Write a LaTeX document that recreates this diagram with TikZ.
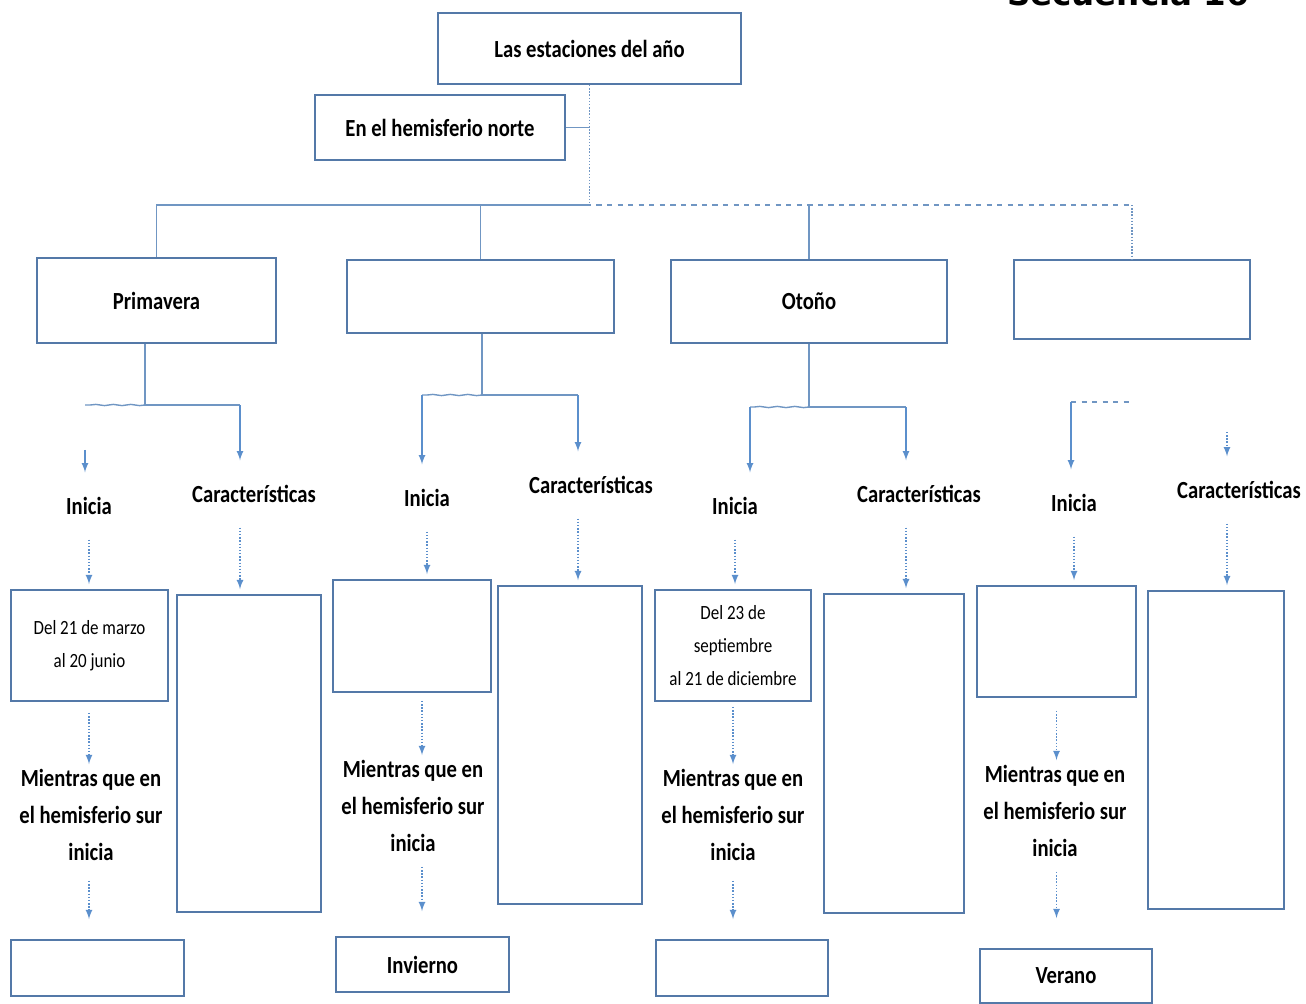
\documentclass[tikz,border=0pt]{standalone}
\usepackage{fontspec}
\setmainfont{Carlito}[FakeStretch=0.84]
\newfontfamily\titulo{DejaVu Sans}
\usetikzlibrary{decorations.pathmorphing}
\definecolor{cborde}{RGB}{84,121,168}
\definecolor{crama}{RGB}{112,150,195}
\definecolor{cflecha}{RGB}{91,143,204}
\tikzset{
  caja/.style={draw=cborde,line width=1.1pt,align=center},
  etiq/.style={font=\bfseries\fontsize{14}{21}\selectfont,align=center},
  rotulo/.style={etiq,inner sep=0pt,outer ysep=0.5cm},
  fecha/.style={font=\fontsize{11.5}{19}\selectfont},
  linea/.style={draw=crama,line width=0.8pt},
  flechita/.style={->,draw=cflecha,line width=0.8pt},
  onda/.style={decorate,decoration={snake,amplitude=0.12mm,segment length=3.5mm}},
}
\begin{document}
\begin{tikzpicture}[>=latex,x=0.02cm,y=-0.02cm]
\useasboundingbox (0,0) rectangle (1306,1004);
\begin{scope}
\clip (0,0) rectangle (1306,1004);
\node[font=\titulo\bfseries\fontsize{18.5}{20}\selectfont,anchor=base] (sec) at (1128,6) {Secuencia 16};
\end{scope}
% cabecera
\node[caja,etiq,minimum width=6.06cm,minimum height=1.42cm] (estac) at (589.5,48.5) {Las estaciones del año};
\node[caja,etiq,minimum width=5cm,minimum height=1.3cm] (norte) at (440,127.5) {En el hemisferio norte};
\node[caja,etiq,minimum width=4.78cm,minimum height=1.7cm] (prim) at (156.5,300.5) {Primavera};
\node[caja,minimum width=5.34cm,minimum height=1.46cm] (est2) at (480.5,296.5) {};
\node[caja,etiq,minimum width=5.52cm,minimum height=1.66cm] (oto) at (809,301.5) {Otoño};
\node[caja,minimum width=4.72cm,minimum height=1.58cm] (est4) at (1132,299.5) {};
\coordinate (tronco) at (589.5,205);
\draw[linea,densely dotted] (estac.south) -- (tronco);
\draw[linea] (norte.east) -- (norte.east -| tronco);
\draw[linea] (tronco) -| (prim.north);
\draw[linea,dashed] (tronco -| est2.north) -- (tronco -| est4.north);
\draw[linea] (tronco -| est2.north) -- (est2.north);
\draw[linea] (tronco -| oto.north) -- (oto.north);
\draw[linea,densely dotted] (tronco -| est4.north) -- (est4.north);
% rotulos
\node[rotulo] (ini1) at (89,506) {Inicia};
\node[rotulo] (car1) at (254,494) {Características};
\node[rotulo] (ini2) at (427,498) {Inicia};
\node[rotulo] (car2) at (591,485) {Características};
\node[rotulo] (ini3) at (735,506) {Inicia};
\node[rotulo] (car3) at (919,494) {Características};
\node[rotulo] (ini4) at (1074,503) {Inicia};
\node[rotulo] (car4) at (1239,490) {Características};
% fechas y cajas de caracteristicas
\node[caja,fecha,minimum width=3.14cm,minimum height=2.22cm] (fecha1) at (89.5,645.5) {Del 21 de marzo\\al 20 junio};
\node[caja,minimum width=2.88cm,minimum height=6.34cm] (rasgos1) at (249,753.5) {};
\node[caja,minimum width=3.16cm,minimum height=2.24cm] (fecha2) at (412,636) {};
\node[caja,minimum width=2.88cm,minimum height=6.36cm] (rasgos2) at (570,745) {};
\node[caja,fecha,minimum width=3.12cm,minimum height=2.22cm] (fecha3) at (733,645.5) {Del 23 de\\septiembre\\al 21 de diciembre};
\node[caja,minimum width=2.8cm,minimum height=6.38cm] (rasgos3) at (894,753.5) {};
\node[caja,minimum width=3.18cm,minimum height=2.22cm] (fecha4) at (1056.5,641.5) {};
\node[caja,minimum width=2.72cm,minimum height=6.36cm] (rasgos4) at (1216,750) {};
% hemisferio sur
\node[etiq,inner sep=0pt] (sur1) at (91,815) {Mientras que en\\el hemisferio sur\\inicia};
\node[etiq,inner sep=0pt] (sur2) at (413,806) {Mientras que en\\el hemisferio sur\\inicia};
\node[etiq,inner sep=0pt] (sur3) at (733,815) {Mientras que en\\el hemisferio sur\\inicia};
\node[etiq,inner sep=0pt] (sur4) at (1055,811) {Mientras que en\\el hemisferio sur\\inicia};
\node[caja,minimum width=3.46cm,minimum height=1.12cm] (res1) at (97.5,968) {};
\node[caja,etiq,minimum width=3.46cm,minimum height=1.1cm] (res2) at (422.5,964.5) {Invierno};
\node[caja,minimum width=3.44cm,minimum height=1.12cm] (res3) at (742,968) {};
\node[caja,etiq,minimum width=3.44cm,minimum height=1.08cm] (res4) at (1066,976) {Verano};
% ramas bajo cada estacion
\coordinate (j1) at (145,405);
\coordinate (a1) at (85,405);
\coordinate (b1) at (240,405);
\draw[linea] (prim.south -| j1) -- (j1) -- (b1);
\draw[linea,onda] (j1) -- (a1);
\draw[flechita,shorten <=0.9cm] (a1) -- (a1 |- ini1.north);
\draw[flechita] (b1) -- (b1 |- car1.north);
\coordinate (j2) at (482,395);
\coordinate (a2) at (422,395);
\coordinate (b2) at (578,395);
\draw[linea] (est2.south -| j2) -- (j2) -- (b2);
\draw[linea,onda] (j2) -- (a2);
\draw[flechita] (a2) -- (a2 |- ini2.north);
\draw[flechita] (b2) -- (b2 |- car2.north);
\coordinate (j3) at (809,407);
\coordinate (a3) at (750,407);
\coordinate (b3) at (906,407);
\draw[linea] (oto.south -| j3) -- (j3) -- (b3);
\draw[linea,onda] (j3) -- (a3);
\draw[flechita] (a3) -- (a3 |- ini3.north);
\draw[flechita] (b3) -- (b3 |- car3.north);
\coordinate (a4) at (1071,402);
\coordinate (b4) at (1227,402);
\coordinate (c4) at (1130,402);
\draw[linea,dashed] (a4) -- (c4);
\draw[flechita] (a4) -- (a4 |- ini4.north);
\draw[flechita,densely dotted,shorten <=0.6cm] (b4) -- (b4 |- car4.north);
% hacia las cajas
\draw[flechita,densely dotted,shorten >=0.1cm] (ini1.south) -- (ini1.south |- fecha1.north);
\draw[flechita,densely dotted,shorten >=0.1cm] (car1.south -| b1) -- (rasgos1.north -| b1);
\draw[flechita,densely dotted,shorten >=0.1cm] (ini2.south) -- (ini2.south |- fecha2.north);
\draw[flechita,densely dotted,shorten >=0.1cm] (car2.south -| b2) -- (rasgos2.north -| b2);
\draw[flechita,densely dotted,shorten >=0.1cm] (ini3.south) -- (ini3.south |- fecha3.north);
\draw[flechita,densely dotted,shorten >=0.1cm] (car3.south -| b3) -- (rasgos3.north -| b3);
\draw[flechita,densely dotted,shorten >=0.1cm] (ini4.south) -- (ini4.south |- fecha4.north);
\draw[flechita,densely dotted,shorten >=0.1cm] (car4.south -| b4) -- (rasgos4.north -| b4);
% hacia el hemisferio sur
\draw[flechita,densely dotted,shorten <=0.22cm,shorten >=0.1cm] (fecha1.south -| ini1) -- (sur1.north -| ini1);
\draw[flechita,densely dotted,shorten <=0.16cm,shorten >=0.1cm] (fecha2.south -| a2) -- (sur2.north -| a2);
\draw[flechita,densely dotted,shorten <=0.1cm,shorten >=0.1cm] (fecha3.south) -- (sur3.north -| fecha3.south);
\draw[flechita,densely dotted,shorten <=0.26cm,shorten >=0.1cm] (fecha4.south) -- (sur4.north -| fecha4.south);
\draw[flechita,densely dotted,shorten <=0.4cm,shorten >=0.4cm] (sur1.south -| ini1) -- (res1.north -| ini1);
\draw[flechita,densely dotted,shorten <=0.3cm,shorten >=0.5cm] (sur2.south -| a2) -- (res2.north -| a2);
\draw[flechita,densely dotted,shorten <=0.4cm,shorten >=0.4cm] (sur3.south) -- (res3.north -| sur3.south);
\draw[flechita,densely dotted,shorten <=0.3cm,shorten >=0.6cm] (sur4.south -| fecha4.south) -- (res4.north -| fecha4.south);
\end{tikzpicture}
\end{document}
